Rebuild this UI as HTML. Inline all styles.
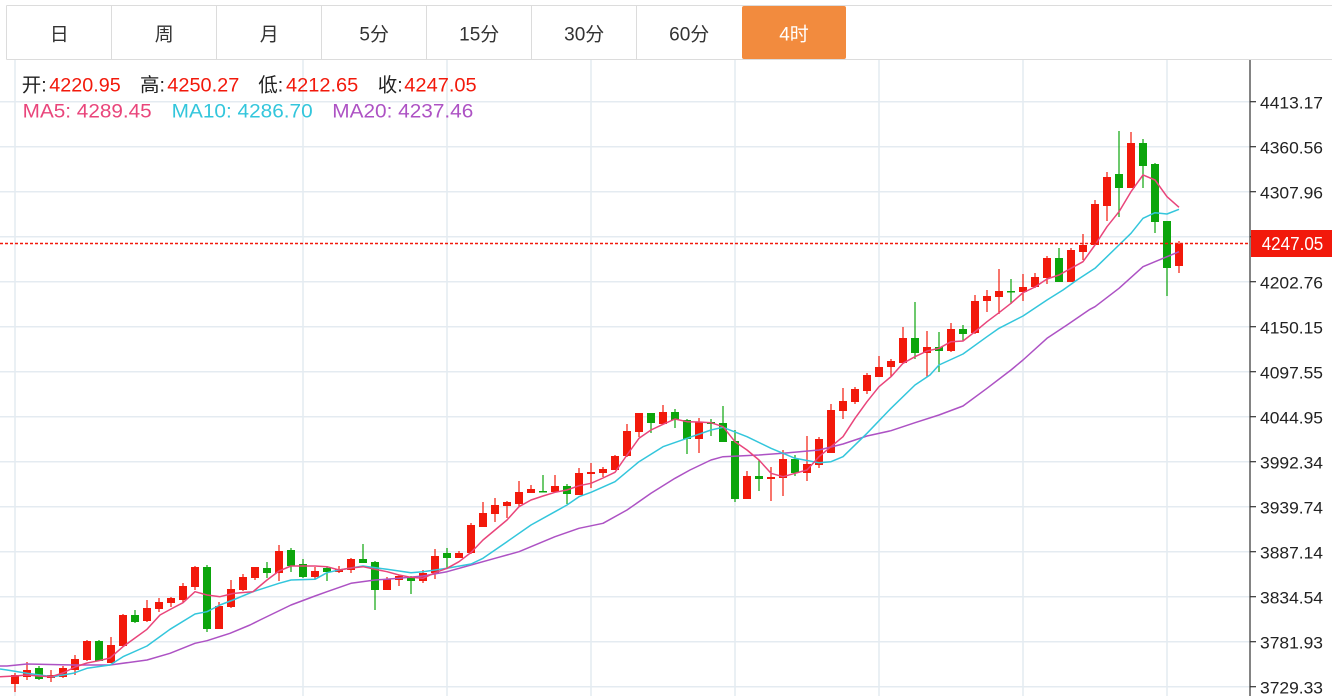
<!DOCTYPE html>
<html><head><meta charset="utf-8"><style>
html,body{margin:0;padding:0;background:#fff;}
svg{display:block;}
text{font-family:"Liberation Sans","Noto Sans CJK SC",sans-serif;}
</style></head><body>
<svg width="1332" height="696" viewBox="0 0 1332 696" xmlns="http://www.w3.org/2000/svg">
<rect width="1332" height="696" fill="#fff"/>
<g stroke="#dcdcdc" stroke-width="1" fill="none">
<line x1="6.5" y1="5.5" x2="1332" y2="5.5"/>
<line x1="6.5" y1="59.5" x2="1332" y2="59.5"/>
<line x1="6.5" y1="5.5" x2="6.5" y2="59.5"/>
<line x1="111.5" y1="5.5" x2="111.5" y2="59.5"/>
<line x1="216.5" y1="5.5" x2="216.5" y2="59.5"/>
<line x1="321.5" y1="5.5" x2="321.5" y2="59.5"/>
<line x1="426.5" y1="5.5" x2="426.5" y2="59.5"/>
<line x1="531.5" y1="5.5" x2="531.5" y2="59.5"/>
<line x1="636.5" y1="5.5" x2="636.5" y2="59.5"/>
</g>
<rect x="742" y="6" width="104" height="53" rx="2" fill="#f28b3e"/>
<g font-size="19" fill="#333" text-anchor="middle">
<text x="59.2" y="40.5">日</text>
<text x="164.2" y="40.5">周</text>
<text x="269.2" y="40.5">月</text>
<text x="374.2" y="40.5">5分</text>
<text x="479.2" y="40.5">15分</text>
<text x="584.2" y="40.5">30分</text>
<text x="689.2" y="40.5">60分</text>
<text x="794" y="40.5" fill="#fff">4时</text>
</g>
<g stroke="#e4ebf1" stroke-width="1.5" fill="none">
<line x1="0" y1="101.7" x2="1250" y2="101.7"/>
<line x1="0" y1="146.7" x2="1250" y2="146.7"/>
<line x1="0" y1="191.7" x2="1250" y2="191.7"/>
<line x1="0" y1="236.7" x2="1250" y2="236.7"/>
<line x1="0" y1="281.7" x2="1250" y2="281.7"/>
<line x1="0" y1="326.7" x2="1250" y2="326.7"/>
<line x1="0" y1="371.7" x2="1250" y2="371.7"/>
<line x1="0" y1="416.7" x2="1250" y2="416.7"/>
<line x1="0" y1="461.7" x2="1250" y2="461.7"/>
<line x1="0" y1="506.7" x2="1250" y2="506.7"/>
<line x1="0" y1="551.7" x2="1250" y2="551.7"/>
<line x1="0" y1="596.7" x2="1250" y2="596.7"/>
<line x1="0" y1="641.7" x2="1250" y2="641.7"/>
<line x1="0" y1="686.7" x2="1250" y2="686.7"/>
<line x1="15" y1="60" x2="15" y2="696"/>
<line x1="303" y1="60" x2="303" y2="696"/>
<line x1="447" y1="60" x2="447" y2="696"/>
<line x1="591" y1="60" x2="591" y2="696"/>
<line x1="735" y1="60" x2="735" y2="696"/>
<line x1="879" y1="60" x2="879" y2="696"/>
<line x1="1023" y1="60" x2="1023" y2="696"/>
<line x1="1167" y1="60" x2="1167" y2="696"/>
</g>
<g font-size="19.5">
<text x="21.7" y="91.5" fill="#222">开:</text>
<text x="49.3" y="91.5" fill="#f2190b" textLength="71.4" lengthAdjust="spacingAndGlyphs">4220.95</text>
<text x="140" y="91.5" fill="#222">高:</text>
<text x="167.3" y="91.5" fill="#f2190b" textLength="72" lengthAdjust="spacingAndGlyphs">4250.27</text>
<text x="258.3" y="91.5" fill="#222">低:</text>
<text x="286" y="91.5" fill="#f2190b" textLength="72.3" lengthAdjust="spacingAndGlyphs">4212.65</text>
<text x="377.7" y="91.5" fill="#222">收:</text>
<text x="404.3" y="91.5" fill="#f2190b" textLength="72.4" lengthAdjust="spacingAndGlyphs">4247.05</text>
<text x="22.7" y="117.3" fill="#e9457b" textLength="129" lengthAdjust="spacingAndGlyphs">MA5: 4289.45</text>
<text x="171.7" y="117.3" fill="#33c6dc" textLength="141" lengthAdjust="spacingAndGlyphs">MA10: 4286.70</text>
<text x="332.3" y="117.3" fill="#ad52c4" textLength="141" lengthAdjust="spacingAndGlyphs">MA20: 4237.46</text>
</g>
<g fill="#f2190b">
<rect x="14.4" y="673" width="1.2" height="19"/><rect x="11" y="675" width="8" height="9"/>
<rect x="26.4" y="662" width="1.2" height="18"/><rect x="23" y="670" width="8" height="7"/>
<rect x="50.4" y="670" width="1.2" height="12"/><rect x="47" y="675" width="8" height="3"/>
<rect x="62.4" y="666" width="1.2" height="12"/><rect x="59" y="668" width="8" height="9"/>
<rect x="74.4" y="655" width="1.2" height="20"/><rect x="71" y="659" width="8" height="11"/>
<rect x="86.4" y="640" width="1.2" height="21"/><rect x="83" y="641" width="8" height="19"/>
<rect x="110.4" y="637" width="1.2" height="26"/><rect x="107" y="645" width="8" height="18"/>
<rect x="122.4" y="614" width="1.2" height="33"/><rect x="119" y="615" width="8" height="31"/>
<rect x="146.4" y="600" width="1.2" height="22"/><rect x="143" y="608" width="8" height="13"/>
<rect x="158.4" y="598" width="1.2" height="14"/><rect x="155" y="602" width="8" height="7"/>
<rect x="170.4" y="597" width="1.2" height="10"/><rect x="167" y="598" width="8" height="5"/>
<rect x="182.4" y="583" width="1.2" height="19"/><rect x="179" y="586" width="8" height="14"/>
<rect x="194.4" y="566" width="1.2" height="24"/><rect x="191" y="567" width="8" height="20"/>
<rect x="218.4" y="602" width="1.2" height="27"/><rect x="215" y="606" width="8" height="23"/>
<rect x="230.4" y="580" width="1.2" height="28"/><rect x="227" y="589" width="8" height="18"/>
<rect x="242.4" y="574" width="1.2" height="17"/><rect x="239" y="577" width="8" height="13"/>
<rect x="254.4" y="567" width="1.2" height="13"/><rect x="251" y="567" width="8" height="11"/>
<rect x="278.4" y="545" width="1.2" height="36"/><rect x="275" y="551" width="8" height="22"/>
<rect x="314.4" y="567" width="1.2" height="12"/><rect x="311" y="571" width="8" height="6"/>
<rect x="338.4" y="566" width="1.2" height="7"/><rect x="335" y="569" width="8" height="3"/>
<rect x="350.4" y="558" width="1.2" height="15"/><rect x="347" y="559" width="8" height="11"/>
<rect x="386.4" y="577" width="1.2" height="13"/><rect x="383" y="579" width="8" height="11"/>
<rect x="398.4" y="575" width="1.2" height="11"/><rect x="395" y="576" width="8" height="4"/>
<rect x="422.4" y="570" width="1.2" height="13"/><rect x="419" y="573" width="8" height="8"/>
<rect x="434.4" y="549" width="1.2" height="30"/><rect x="431" y="556" width="8" height="17"/>
<rect x="458.4" y="551" width="1.2" height="7"/><rect x="455" y="553" width="8" height="5"/>
<rect x="470.4" y="523" width="1.2" height="31"/><rect x="467" y="525" width="8" height="28"/>
<rect x="482.4" y="502" width="1.2" height="25"/><rect x="479" y="513" width="8" height="14"/>
<rect x="494.4" y="498" width="1.2" height="24"/><rect x="491" y="505" width="8" height="9"/>
<rect x="506.4" y="501" width="1.2" height="17"/><rect x="503" y="502" width="8" height="4"/>
<rect x="518.4" y="481" width="1.2" height="26"/><rect x="515" y="492" width="8" height="12"/>
<rect x="530.4" y="485" width="1.2" height="8"/><rect x="527" y="489" width="8" height="4"/>
<rect x="554.4" y="475" width="1.2" height="17"/><rect x="551" y="486" width="8" height="6"/>
<rect x="578.4" y="468" width="1.2" height="27"/><rect x="575" y="473" width="8" height="22"/>
<rect x="590.4" y="463" width="1.2" height="25"/><rect x="587" y="472" width="8" height="2"/>
<rect x="602.4" y="467" width="1.2" height="10"/><rect x="599" y="469" width="8" height="4"/>
<rect x="614.4" y="455" width="1.2" height="15"/><rect x="611" y="456" width="8" height="14"/>
<rect x="626.4" y="424" width="1.2" height="33"/><rect x="623" y="431" width="8" height="25"/>
<rect x="638.4" y="413" width="1.2" height="24"/><rect x="635" y="413" width="8" height="19"/>
<rect x="662.4" y="405" width="1.2" height="19"/><rect x="659" y="412" width="8" height="12"/>
<rect x="698.4" y="418" width="1.2" height="35"/><rect x="695" y="422" width="8" height="17"/>
<rect x="746.4" y="471" width="1.2" height="28"/><rect x="743" y="476" width="8" height="23"/>
<rect x="770.4" y="467" width="1.2" height="34"/><rect x="767" y="477" width="8" height="2"/>
<rect x="782.4" y="450" width="1.2" height="46"/><rect x="779" y="459" width="8" height="19"/>
<rect x="806.4" y="436" width="1.2" height="45"/><rect x="803" y="464" width="8" height="9"/>
<rect x="818.4" y="437" width="1.2" height="31"/><rect x="815" y="439" width="8" height="26"/>
<rect x="830.4" y="404" width="1.2" height="49"/><rect x="827" y="410" width="8" height="43"/>
<rect x="842.4" y="388" width="1.2" height="31"/><rect x="839" y="401" width="8" height="10"/>
<rect x="854.4" y="387" width="1.2" height="17"/><rect x="851" y="389" width="8" height="13"/>
<rect x="866.4" y="373" width="1.2" height="21"/><rect x="863" y="375" width="8" height="16"/>
<rect x="878.4" y="356" width="1.2" height="21"/><rect x="875" y="367" width="8" height="10"/>
<rect x="890.4" y="359" width="1.2" height="18"/><rect x="887" y="361" width="8" height="6"/>
<rect x="902.4" y="327" width="1.2" height="36"/><rect x="899" y="338" width="8" height="25"/>
<rect x="926.4" y="331" width="1.2" height="46"/><rect x="923" y="347" width="8" height="6"/>
<rect x="950.4" y="323" width="1.2" height="29"/><rect x="947" y="329" width="8" height="22"/>
<rect x="974.4" y="295" width="1.2" height="39"/><rect x="971" y="301" width="8" height="32"/>
<rect x="986.4" y="290" width="1.2" height="22"/><rect x="983" y="296" width="8" height="5"/>
<rect x="998.4" y="269" width="1.2" height="45"/><rect x="995" y="291" width="8" height="6"/>
<rect x="1022.4" y="274" width="1.2" height="27"/><rect x="1019" y="287" width="8" height="5"/>
<rect x="1034.4" y="273" width="1.2" height="15"/><rect x="1031" y="277" width="8" height="10"/>
<rect x="1046.4" y="256" width="1.2" height="28"/><rect x="1043" y="258" width="8" height="20"/>
<rect x="1070.4" y="248" width="1.2" height="34"/><rect x="1067" y="250" width="8" height="32"/>
<rect x="1082.4" y="234" width="1.2" height="26"/><rect x="1079" y="245" width="8" height="7"/>
<rect x="1094.4" y="200" width="1.2" height="45"/><rect x="1091" y="204" width="8" height="41"/>
<rect x="1106.4" y="172" width="1.2" height="49"/><rect x="1103" y="177" width="8" height="29"/>
<rect x="1130.4" y="132" width="1.2" height="56"/><rect x="1127" y="143" width="8" height="45"/>
<rect x="1178.4" y="241" width="1.2" height="32"/><rect x="1175" y="244" width="8" height="22"/>
</g>
<g fill="#0ca50c">
<rect x="38.4" y="666" width="1.2" height="14"/><rect x="35" y="668" width="8" height="11"/>
<rect x="98.4" y="640" width="1.2" height="21"/><rect x="95" y="641" width="8" height="20"/>
<rect x="134.4" y="610" width="1.2" height="13"/><rect x="131" y="615" width="8" height="7"/>
<rect x="206.4" y="565" width="1.2" height="67"/><rect x="203" y="567" width="8" height="62"/>
<rect x="266.4" y="562" width="1.2" height="16"/><rect x="263" y="568" width="8" height="5"/>
<rect x="290.4" y="548" width="1.2" height="24"/><rect x="287" y="550" width="8" height="16"/>
<rect x="302.4" y="559" width="1.2" height="19"/><rect x="299" y="564" width="8" height="13"/>
<rect x="326.4" y="566" width="1.2" height="15"/><rect x="323" y="568" width="8" height="4"/>
<rect x="362.4" y="544" width="1.2" height="19"/><rect x="359" y="559" width="8" height="4"/>
<rect x="374.4" y="561" width="1.2" height="49"/><rect x="371" y="562" width="8" height="28"/>
<rect x="410.4" y="576" width="1.2" height="18"/><rect x="407" y="577" width="8" height="4"/>
<rect x="446.4" y="548" width="1.2" height="20"/><rect x="443" y="553" width="8" height="5"/>
<rect x="542.4" y="475" width="1.2" height="17"/><rect x="539" y="491" width="8" height="1.5"/>
<rect x="566.4" y="484" width="1.2" height="20"/><rect x="563" y="486" width="8" height="8"/>
<rect x="650.4" y="413" width="1.2" height="20"/><rect x="647" y="413" width="8" height="10"/>
<rect x="674.4" y="409" width="1.2" height="19"/><rect x="671" y="412" width="8" height="8"/>
<rect x="686.4" y="419" width="1.2" height="35"/><rect x="683" y="420" width="8" height="19"/>
<rect x="710.4" y="419" width="1.2" height="17"/><rect x="707" y="422" width="8" height="2"/>
<rect x="722.4" y="406" width="1.2" height="36"/><rect x="719" y="423" width="8" height="19"/>
<rect x="734.4" y="430" width="1.2" height="72"/><rect x="731" y="441" width="8" height="58"/>
<rect x="758.4" y="460" width="1.2" height="31"/><rect x="755" y="476" width="8" height="3"/>
<rect x="794.4" y="455" width="1.2" height="21"/><rect x="791" y="459" width="8" height="14"/>
<rect x="914.4" y="302" width="1.2" height="57"/><rect x="911" y="338" width="8" height="15"/>
<rect x="938.4" y="332" width="1.2" height="40"/><rect x="935" y="347" width="8" height="4"/>
<rect x="962.4" y="325" width="1.2" height="16"/><rect x="959" y="329" width="8" height="5"/>
<rect x="1010.4" y="279" width="1.2" height="25"/><rect x="1007" y="291" width="8" height="1.5"/>
<rect x="1058.4" y="248" width="1.2" height="34"/><rect x="1055" y="258" width="8" height="24"/>
<rect x="1118.4" y="131" width="1.2" height="86"/><rect x="1115" y="174" width="8" height="14"/>
<rect x="1142.4" y="139" width="1.2" height="49"/><rect x="1139" y="143" width="8" height="23"/>
<rect x="1154.4" y="163" width="1.2" height="70"/><rect x="1151" y="164" width="8" height="58"/>
<rect x="1166.4" y="221" width="1.2" height="75"/><rect x="1163" y="221" width="8" height="47"/>
</g>
<g fill="none" stroke-width="1.5" stroke-linejoin="round">
<polyline stroke="#ad52c4" points="0,666 7,666 27,664 73,665 110,665 147,660 170,653.3 195,643.3 207,640.7 230,633.3 250,625 260,620 291,605 315,596 327,591.7 351,583.3 375,580 399,578.3 423,576 447,571.7 471,565 495,558.3 519,551.7 555,536.7 579,528.3 603,523.3 627,510 651,493.3 675,478.3 690,470 711,460 723,456.7 759,455 783,453.3 819,450 843,444 867,436 891,430.7 915,422.7 939,415 963,406 987,388.3 1011,370 1023,360 1047,338.3 1067,325 1090,309.3 1095,306.7 1119,288.3 1143,266.7 1167,256.7 1179,251.7"/>
<polyline stroke="#33c6dc" points="0,669 7,670 27,673.3 53,676.7 73,673.3 87,668.3 110,665 123,656.7 147,646 170,629.3 195,614 207,611.7 220,605 233,600 253,591.7 279,583.3 291,580 315,579.3 327,572.7 339,570 363,566 387,569.3 411,572.7 423,571.7 447,568.3 471,564 483,558.3 507,541.7 531,525 555,511.7 567,505 579,496.7 591,492.3 615,481.7 639,461.7 663,446.7 687,438.3 711,430 723,427.3 747,436.7 771,448.3 795,458.3 819,462.7 831,461.7 843,456.7 867,433.3 891,408.3 915,385 930,375 939,365 963,354 987,336.7 999,328.3 1023,316 1047,300 1063,290 1077,280 1095,268.3 1119,245 1131,233.3 1143,218.3 1155,212.7 1167,214 1179,209.3"/>
<polyline stroke="#e9457b" points="0,676.7 15,676 27,675 39,676 51,676.7 63,673 75,667 87,663 99,660.7 110,658 123,646.7 135,638 147,629.3 160,615 171,609 183,602.7 195,591.7 207,595 220,596.7 233,593.5 243,592.5 253,591.7 267,580 279,571 291,566 303,566 315,566 327,566.7 339,570 351,568 363,566.7 375,569.3 387,571.7 399,575 411,577.3 423,578.3 435,572.7 447,568.3 459,561.7 471,552.5 483,540 495,530 507,520 519,506.7 531,500 543,496 555,492.3 567,490 579,485.7 591,483.3 603,478 615,472.3 627,455 639,438.3 651,430 663,424.3 675,419 687,421.7 699,422 711,422.7 723,426.7 735,441.7 747,450 759,460 771,473.3 783,476.7 795,473.3 807,470 819,456.7 831,446.7 843,436.7 855,418.3 867,401.7 879,386.7 891,376.7 903,363.3 915,356.7 927,351 939,348.3 951,341.7 963,341 975,331.7 987,321.7 999,312.7 1011,303.3 1023,292.7 1035,287 1047,279 1059,275 1071,268.3 1083,261.7 1095,245 1107,226.7 1119,211.7 1131,191.7 1143,175 1155,180 1167,196.7 1179,207.3"/>
</g>
<line x1="0" y1="243.5" x2="1250" y2="243.5" stroke="#f2190b" stroke-width="1.5" stroke-dasharray="3,2"/>
<line x1="1250" y1="60" x2="1250" y2="696" stroke="#333" stroke-width="1.2"/>
<g stroke="#333" stroke-width="1.2">
<line x1="1250" y1="101.7" x2="1256" y2="101.7"/>
<line x1="1250" y1="146.7" x2="1256" y2="146.7"/>
<line x1="1250" y1="191.7" x2="1256" y2="191.7"/>
<line x1="1250" y1="236.7" x2="1256" y2="236.7"/>
<line x1="1250" y1="281.7" x2="1256" y2="281.7"/>
<line x1="1250" y1="326.7" x2="1256" y2="326.7"/>
<line x1="1250" y1="371.7" x2="1256" y2="371.7"/>
<line x1="1250" y1="416.7" x2="1256" y2="416.7"/>
<line x1="1250" y1="461.7" x2="1256" y2="461.7"/>
<line x1="1250" y1="506.7" x2="1256" y2="506.7"/>
<line x1="1250" y1="551.7" x2="1256" y2="551.7"/>
<line x1="1250" y1="596.7" x2="1256" y2="596.7"/>
<line x1="1250" y1="641.7" x2="1256" y2="641.7"/>
<line x1="1250" y1="686.7" x2="1256" y2="686.7"/>
</g>
<g font-size="16.5" fill="#222">
<text x="1260" y="108.3" textLength="63" lengthAdjust="spacingAndGlyphs">4413.17</text>
<text x="1260" y="153.3" textLength="63" lengthAdjust="spacingAndGlyphs">4360.56</text>
<text x="1260" y="198.3" textLength="63" lengthAdjust="spacingAndGlyphs">4307.96</text>
<text x="1260" y="243.3" textLength="63" lengthAdjust="spacingAndGlyphs">4255.36</text>
<text x="1260" y="288.3" textLength="63" lengthAdjust="spacingAndGlyphs">4202.76</text>
<text x="1260" y="333.3" textLength="63" lengthAdjust="spacingAndGlyphs">4150.15</text>
<text x="1260" y="378.3" textLength="63" lengthAdjust="spacingAndGlyphs">4097.55</text>
<text x="1260" y="423.3" textLength="63" lengthAdjust="spacingAndGlyphs">4044.95</text>
<text x="1260" y="468.3" textLength="63" lengthAdjust="spacingAndGlyphs">3992.34</text>
<text x="1260" y="513.3" textLength="63" lengthAdjust="spacingAndGlyphs">3939.74</text>
<text x="1260" y="558.3" textLength="63" lengthAdjust="spacingAndGlyphs">3887.14</text>
<text x="1260" y="603.3" textLength="63" lengthAdjust="spacingAndGlyphs">3834.54</text>
<text x="1260" y="648.3" textLength="63" lengthAdjust="spacingAndGlyphs">3781.93</text>
<text x="1260" y="693.3" textLength="63" lengthAdjust="spacingAndGlyphs">3729.33</text>
</g>
<rect x="1251" y="230" width="81" height="27" fill="#f2190b"/>
<text x="1261.7" y="250" font-size="18.5" fill="#fff" textLength="61.6" lengthAdjust="spacingAndGlyphs">4247.05</text>
</svg>
</body></html>
